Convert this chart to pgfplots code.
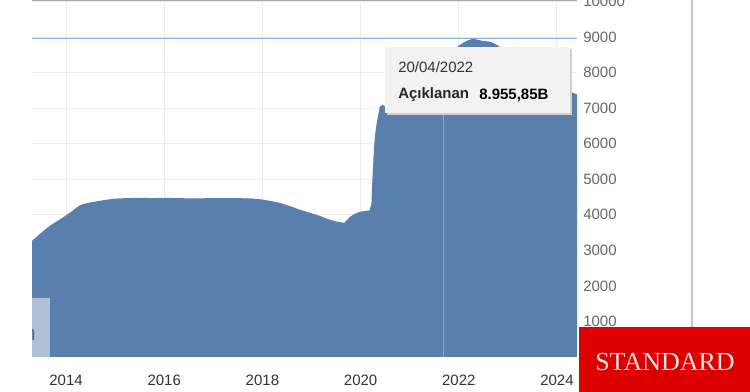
\documentclass[border=0pt]{standalone}
\usepackage{pgfplots}
\pgfplotsset{compat=1.18}
\usepackage{fontspec}
\setmainfont{Liberation Sans}
\newfontfamily\serifbrand{Liberation Serif}
\definecolor{areablue}{HTML}{5A7FAD}
\definecolor{gridgray}{HTML}{EBEBEB}
\definecolor{labeldark}{HTML}{333333}
\definecolor{labelgray}{HTML}{666666}
\definecolor{valueblue}{HTML}{86ACD9}
\definecolor{crossblue}{HTML}{86A6CC}
\definecolor{topgray}{HTML}{AAAAAA}
\definecolor{bordergray}{HTML}{C4C4C4}
\definecolor{boxblue}{HTML}{ADC0D6}
\definecolor{tipfill}{HTML}{F2F2F2}
\definecolor{tipshadow}{HTML}{CFCFCF}
\definecolor{brandred}{HTML}{DD0000}
\definecolor{brandtext}{HTML}{F8E2E2}
\begin{document}
\begin{tikzpicture}[x=1pt,y=1pt]
\begin{axis}[
  at={(24pt,26.25pt)}, anchor=south west,
  scale only axis, width=408.75pt, height=267.75pt,
  xmin=2013.306, xmax=2024.408, ymin=0, ymax=10045,
  axis line style={draw=none},
  xtick={2014,2016,2018,2020,2022,2024},
  xticklabels={2014,2016,2018,2020,2022,2024},
  ytick={1000,2000,3000,4000,5000,6000,7000,8000,9000,10000},
  yticklabels={1000,2000,3000,4000,5000,6000,7000,8000,9000,10000},
  major tick length=0pt,
  grid=major,
  major grid style={color=gridgray, line width=0.75pt},
  xticklabel style={font=\fontsize{11.25}{13}\selectfont, text=labeldark, anchor=center, yshift=-17.25pt},
  yticklabel pos=right,
  yticklabel style={font=\fontsize{11.25}{13}\selectfont, text=labelgray, anchor=west, inner sep=0pt, xshift=4.5pt},
  clip=true,
]
\addplot[fill=areablue, draw=none] coordinates {
(2013.30,3260) (2013.40,3380) (2013.50,3500) (2013.60,3620) (2013.70,3720)
(2013.80,3810) (2013.90,3890) (2014.00,3990) (2014.10,4080) (2014.20,4190)
(2014.30,4280) (2014.40,4320) (2014.50,4350) (2014.63,4380) (2014.80,4420)
(2014.96,4450) (2015.20,4470) (2015.50,4480) (2015.80,4470) (2016.00,4480)
(2016.30,4470) (2016.60,4460) (2016.90,4470) (2017.20,4470) (2017.50,4470)
(2017.78,4460) (2018.00,4430) (2018.20,4380) (2018.35,4340) (2018.55,4250)
(2018.75,4150) (2018.96,4060) (2019.15,3980) (2019.37,3860) (2019.55,3800)
(2019.67,3775) (2019.73,3860) (2019.78,3940) (2019.88,4030) (2019.98,4085)
(2020.10,4110) (2020.18,4120) (2020.22,4300) (2020.24,5000) (2020.27,5800)
(2020.29,6200) (2020.33,6600) (2020.39,7040) (2020.45,7100) (2020.55,6980)
(2020.65,6990) (2020.75,7150) (2020.90,7300) (2021.00,7400) (2021.25,7700)
(2021.50,8100) (2021.75,8450) (2022.00,8760) (2022.10,8850) (2022.20,8920)
(2022.30,8956) (2022.40,8920) (2022.50,8890) (2022.60,8880) (2022.70,8840)
(2022.80,8760) (2023.00,8550) (2023.15,8400) (2023.20,8730) (2023.30,8600)
(2023.50,8300) (2023.75,8000) (2024.00,7700) (2024.15,7560) (2024.27,7465)
(2024.42,7380)
} \closedcycle;
\addplot[valueblue, line width=1.1pt] coordinates {(2013.306,8955.85) (2024.408,8955.85)};
\addplot[crossblue, line width=0.75pt] coordinates {(2021.694,0) (2021.694,6845)};
\end{axis}
% top border of plot
\draw[topgray, line width=2pt] (24pt,294pt) -- (432.75pt,294pt);
% right border
\draw[bordergray, line width=1.1pt] (519pt,48.75pt) -- (519pt,294pt);
% cropped light box bottom-left
\begin{scope}
\clip (24pt,26.25pt) rectangle (37.5pt,70.5pt);
\fill[boxblue] (24pt,26.25pt) rectangle (37.5pt,70.5pt);
\node[anchor=east, inner sep=0pt, text=labelgray, font=\fontsize{16}{18}\selectfont] at (27pt,43pt) {n};
\end{scope}
% tooltip
\fill[tipshadow] (290.25pt,207.75pt) rectangle (429pt,257.25pt);
\fill[tipfill] (288.75pt,209.25pt) rectangle (427.5pt,258.75pt);
\node[anchor=west, inner sep=0pt, text=labeldark, font=\fontsize{11.25}{13}\selectfont] at (298.5pt,243.75pt) {20/04/2022};
\node[anchor=west, inner sep=0pt, text=black!85, font=\fontsize{11.25}{13}\selectfont\bfseries] at (298.5pt,222.75pt) {Açıklanan};
\node[anchor=west, inner sep=0pt, text=black, font=\fontsize{11.25}{13}\selectfont\bfseries] at (359.25pt,222.75pt) {8.955,85B};
% brand box
\fill[brandred] (434.25pt,0pt) rectangle (562.5pt,48.75pt);
\node[text=brandtext, font=\serifbrand\fontsize{19.5}{22}\selectfont, inner sep=0pt] at (498.75pt,22.5pt) {STANDARD};
\pgfresetboundingbox
\path (0pt,0pt) rectangle (562.5pt,294pt);
\end{tikzpicture}
\end{document}
